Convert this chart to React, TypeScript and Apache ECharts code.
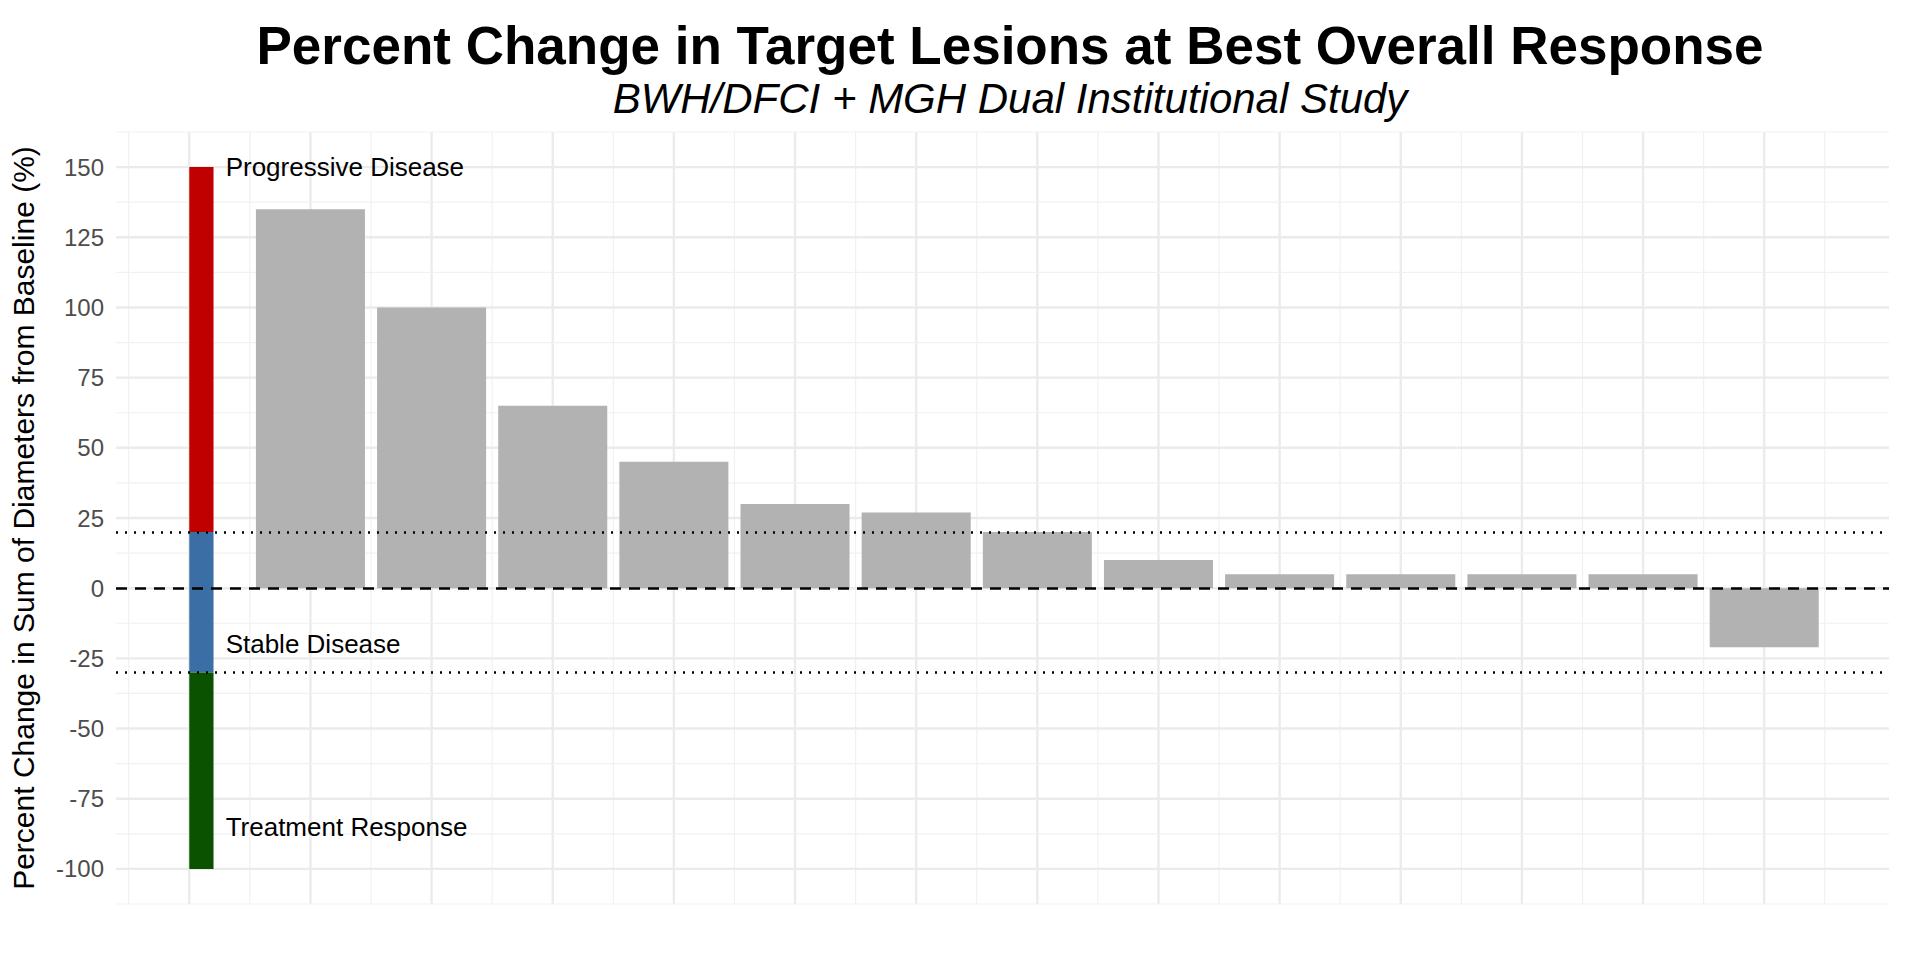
import { useRef, useEffect } from 'react'
import * as echarts from 'echarts'

// best overall response per patient (%)
const patientChange = [135, 100, 65, 45, 30, 27, 20, 10, 5, 5, 5, 5, -21]
// response bands on the left
const bandNames = ['Progressive Disease', 'Stable Disease', 'Treatment Response']
const bandLow = [20, -30, -100]
const bandHigh = [150, 20, -30]
const bandLabelY = [150, -20, -85]
const bandColors = ['#C00000', '#3A6EA5', '#0B5200']
const yTicks = [-100, -75, -50, -25, 0, 25, 50, 75, 100, 125, 150]
const thresholds = [20, -30]

const FONT = 'Liberation Sans, Arial, sans-serif'
const X_MIN = 0.395
const X_MAX = 15.03
const Y_MIN = -112.5
const Y_MAX = 162.5

export default function App() {
  const cDom = useRef<HTMLDivElement>(null)

  useEffect(() => {
    if (!cDom.current) return
    const chart = echarts.init(cDom.current, null, { renderer: 'svg' })

    // grid lines: [axis (0 = vertical, 1 = horizontal), value, major]
    const gridLines: number[][] = []
    for (let i = 1; i <= 14; i++) { gridLines.push([0, i - 0.5, 0]); gridLines.push([0, i, 1]) }
    gridLines.push([0, 14.5, 0])
    yTicks.forEach(v => { gridLines.push([1, v - 12.5, 0]); gridLines.push([1, v, 1]) })
    gridLines.push([1, 162.5, 0])

    const bars = patientChange.map((v, i) => [i + 2, v])
    const bands = bandLow.map((lo, i) => [lo, bandHigh[i], i])

    const options = {
      animation: false,
      backgroundColor: '#fff',
      title: [
        {
          text: 'Percent Change in Target Lesions at Best Overall Response',
          left: 1005, top: 14, textAlign: 'center',
          textStyle: { fontFamily: FONT, fontSize: 53, fontWeight: 'bold', color: '#000' },
        },
        {
          text: 'BWH/DFCI + MGH Dual Institutional Study',
          left: 1005, top: 72, textAlign: 'center',
          textStyle: { fontFamily: FONT, fontSize: 42, fontStyle: 'italic', fontWeight: 'normal', color: '#000' },
        },
      ],
      grid: { left: 110, right: 31, top: 132, bottom: 56 },
      xAxis: {
        type: 'value', min: X_MIN, max: X_MAX,
        axisLine: { show: false }, axisTick: { show: false }, axisLabel: { show: false },
        splitLine: { show: false },
      },
      yAxis: {
        type: 'value', min: Y_MIN, max: Y_MAX, interval: 12.5,
        name: 'Percent Change in Sum of Diameters from Baseline (%)',
        nameLocation: 'middle', nameGap: 78,
        nameTextStyle: { fontFamily: FONT, fontSize: 30, color: '#000' },
        axisLine: { show: false }, axisTick: { show: false },
        splitLine: { show: false },
        axisLabel: {
          fontFamily: FONT, fontSize: 24, color: '#4d4d4d', margin: 12,
          formatter: (v: number) => (yTicks.includes(v) ? String(v) : ''),
        },
      },
      series: [
        {
          type: 'custom', z: 0, silent: true, data: gridLines,
          renderItem: (_p: any, api: any) => {
            const vertical = api.value(0) === 0, v = api.value(1), major = api.value(2) === 1
            const a = vertical ? api.coord([v, Y_MIN]) : api.coord([X_MIN, v])
            const b = vertical ? api.coord([v, Y_MAX]) : api.coord([X_MAX, v])
            return {
              type: 'line', shape: { x1: a[0], y1: a[1], x2: b[0], y2: b[1] },
              style: { stroke: major ? '#ebebeb' : '#f1f1f1', lineWidth: major ? 2.4 : 1.2 },
            }
          },
        },
        {
          type: 'custom', z: 3, data: bars,
          renderItem: (_p: any, api: any) => {
            const x = api.value(0), v = api.value(1)
            const a = api.coord([x - 0.45, Math.max(v, 0)])
            const b = api.coord([x + 0.45, Math.min(v, 0)])
            return { type: 'rect', shape: { x: a[0], y: a[1], width: b[0] - a[0], height: b[1] - a[1] }, style: { fill: '#B2B2B2' } }
          },
        },
        {
          type: 'custom', z: 4, data: bands,
          renderItem: (_p: any, api: any) => {
            const i = api.value(2)
            const a = api.coord([1, api.value(1)])
            const b = api.coord([1.2, api.value(0)])
            const t = api.coord([1.3, bandLabelY[i]])
            return {
              type: 'group', children: [
                { type: 'rect', shape: { x: a[0], y: a[1], width: b[0] - a[0], height: b[1] - a[1] }, style: { fill: bandColors[i] } },
                { type: 'text', x: t[0], y: t[1], style: { text: bandNames[i], fontFamily: FONT, fontSize: 26, fill: '#000', verticalAlign: 'middle' } },
              ],
            }
          },
        },
        {
          type: 'line', data: [], silent: true, z: 5,
          markLine: {
            silent: true, symbol: 'none', label: { show: false },
            data: [
              ...thresholds.map(v => ({ yAxis: v, lineStyle: { type: [2, 7], width: 2.5, color: '#000' } })),
              { yAxis: 0, lineStyle: { type: [11, 8], width: 2.5, color: '#000' } },
            ],
          },
        },
      ],
    }
    chart.setOption(options as any)
    return () => chart.dispose()
  }, [])

  return <div ref={cDom} style={{ position: 'fixed', left: 0, top: 0, width: 1920, height: 960 }} />
}
